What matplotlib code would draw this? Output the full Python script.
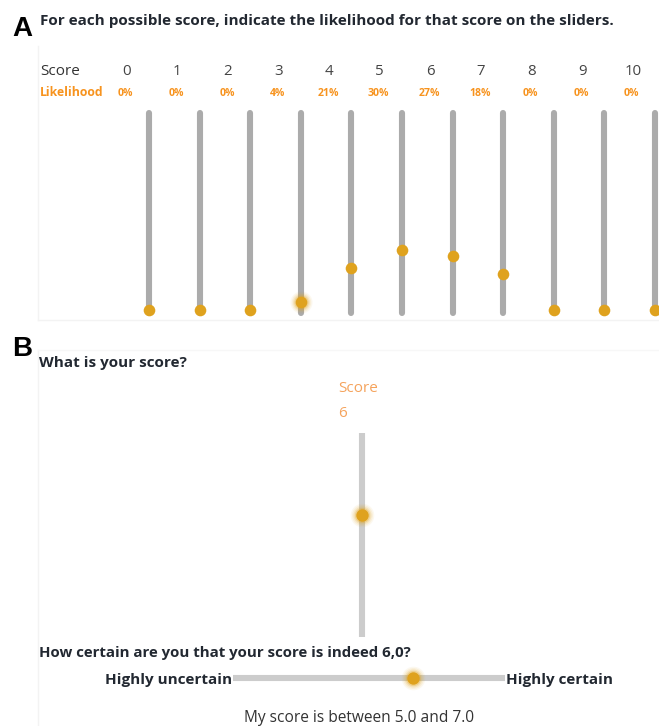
import matplotlib
matplotlib.use('Agg')
import matplotlib.pyplot as plt
from matplotlib.transforms import blended_transform_factory

# data
scores = [0, 1, 2, 3, 4, 5, 6, 7, 8, 9, 10]
likelihood = [0, 0, 0, 4, 21, 30, 27, 18, 0, 0, 0]
glow_index = 3
chosen_score = 6
certainty = 66
range_low = 5.0
range_high = 7.0

title_a = 'For each possible score, indicate the likelihood for that score on the sliders.'
question_b1 = 'What is your score?'
question_b2 = 'How certain are you that your score is indeed 6,0?'
left_label = 'Highly uncertain'
right_label = 'Highly certain'

plt.rcParams['font.family'] = ['Open Sans', 'DejaVu Sans']

W, H = 659, 726
knob_color = '#dfa21e'
dark = '#222831'
orange = '#f7931e'
light_orange = '#f5a35c'

fig = plt.figure(figsize=(W / 100, H / 100), dpi=100)

# base axes in pixel coordinates for the page texts
ax0 = fig.add_axes([0, 0, 1, 1])
ax0.set_xlim(0, W)
ax0.set_ylim(H, 0)
ax0.axis('off')


def fig_box(x0, y0, x1, y1):
    # pixel box (top-left origin) -> figure fraction
    return [x0 / W, 1 - y1 / H, (x1 - x0) / W, (y1 - y0) / H]


def glow(ax, x, y, size):
    for k, a in [(3.6, 0.07), (2.8, 0.1), (2.1, 0.16), (1.5, 0.28)]:
        ax.scatter(x, y, s=size * k, color=knob_color, alpha=a, lw=0, zorder=4, clip_on=False)


# faint panel frames
ax0.plot([38, 38], [46, 320], color='#f3f3f3', lw=1)
ax0.plot([38, W], [320, 320], color='#f3f3f3', lw=1)
ax0.plot([38, 38], [350, H], color='#f3f3f3', lw=1)
ax0.plot([38, W], [350, 350], color='#f7f7f7', lw=1)

# panel letters and headings
ax0.text(12, 36, 'A', fontsize=20, fontweight='bold', color='black', family='Liberation Sans')
ax0.text(40, 25, title_a, fontsize=11, fontweight='bold', color=dark)
ax0.text(12, 356, 'B', fontsize=20, fontweight='bold', color='black', family='Liberation Sans')
ax0.text(39, 367, question_b1, fontsize=11, fontweight='bold', color=dark)

# ---- panel A: eleven vertical likelihood sliders
ax_a = fig.add_axes(fig_box(149, 110, 655, 310))
ax_a.set_xlim(0, 10)
ax_a.set_ylim(0, 100)
ax_a.axis('off')
ax_a.vlines(scores, -1.5, 98.5, color='#ababab', lw=4.4, capstyle='round', clip_on=False, zorder=2)
ax_a.scatter(scores, likelihood, s=70, color=knob_color, lw=0, zorder=5, clip_on=False)
glow(ax_a, scores[glow_index], likelihood[glow_index], 70)

row_tr = blended_transform_factory(ax_a.transData, ax0.transData)
ax0.text(40, 75, 'Score', fontsize=11, color='#333333')
ax0.text(40, 96, 'Likelihood', fontsize=8.8, fontweight='bold', color=orange)
for s, p in zip(scores, likelihood):
    ax_a.text(s - 0.44, 75, str(s), fontsize=10.8, color='#444444', ha='center', transform=row_tr)
    ax_a.text(s - 0.46, 96, '%d%%' % p, fontsize=7.6, fontweight='bold', color=orange, ha='center',
              transform=row_tr)

# ---- panel B: score slider
ax_s = fig.add_axes(fig_box(352, 433, 372, 637))
ax_s.set_xlim(-1, 1)
ax_s.set_ylim(0, 10)
ax_s.axis('off')
ax_s.vlines(0, 0, 10, color='#cccccc', lw=4.4, capstyle='round', zorder=2)
ax_s.scatter([0], [chosen_score], s=80, color=knob_color, lw=0, zorder=5)
glow(ax_s, 0, chosen_score, 80)

ax0.text(338, 392, 'Score', fontsize=11, color=light_orange)
ax0.text(338, 417, str(chosen_score), fontsize=11, color=light_orange)

# certainty slider
ax0.text(39, 657, question_b2, fontsize=10.8, fontweight='bold', color=dark)
ax_c = fig.add_axes(fig_box(233, 668, 505, 688))
ax_c.set_xlim(0, 100)
ax_c.set_ylim(-1, 1)
ax_c.axis('off')
ax_c.hlines(0, 0, 100, color='#cccccc', lw=4.4, capstyle='round', zorder=2)
ax_c.scatter([certainty], [0], s=80, color=knob_color, lw=0, zorder=5)
glow(ax_c, certainty, 0, 80)

ax0.text(232, 684, left_label, fontsize=11, fontweight='bold', color=dark, ha='right')
ax0.text(506, 684, right_label, fontsize=11, fontweight='bold', color=dark, ha='left')
ax0.text(359, 722, 'My score is between %.1f and %.1f' % (range_low, range_high), fontsize=11.2,
         color='#333333', ha='center')

fig.savefig('out.png', dpi=100)
